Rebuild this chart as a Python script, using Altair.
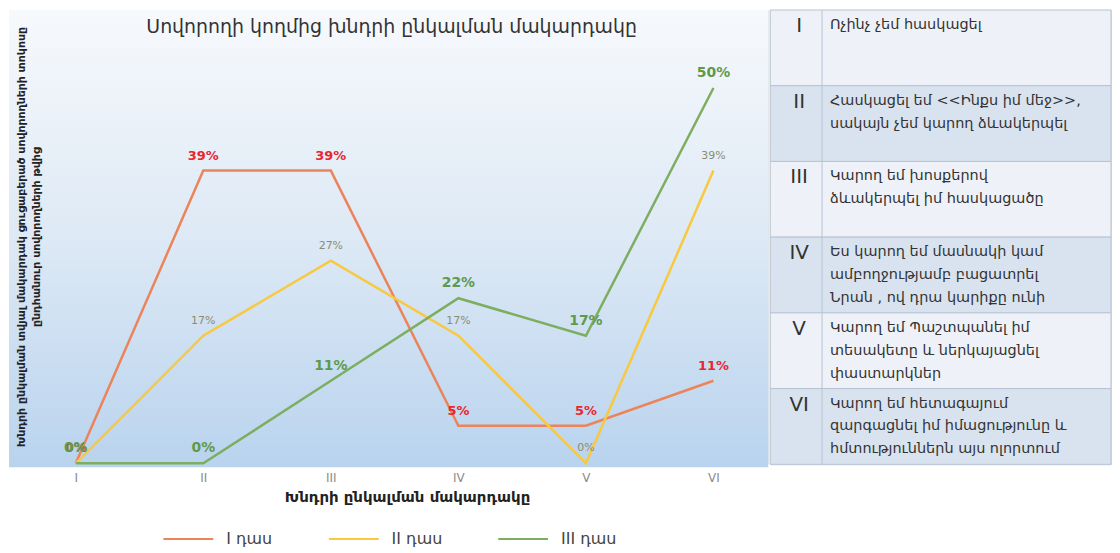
import altair as alt
import pandas as pd

# ---------------- data ----------------
levels = ["I", "II", "III", "IV", "V", "VI"]
series_names = ["I դաս", "II դաս", "III դաս"]
class1 = [0, 39, 39, 5, 5, 11]
class2 = [0, 17, 27, 17, 0, 39]
class3 = [0, 0, 11, 22, 17, 50]

title_text = "Սովորողի կողմից խնդրի ընկալման մակարդակը"
x_title = "Խնդրի ընկալման մակարդակը"
y_title = [
    "Խնդրի ընկալման տվյալ մակարդակ ցուցաբերած սովորողների տոկոսը",
    "ընդհանուր սովորողների թվից",
]

table_numerals = ["I", "II", "III", "IV", "V", "VI"]
table_texts = [
    "Ոչինչ չեմ հասկացել",
    "Հասկացել եմ <<Ինքս իմ մեջ>>,\nսակայն չեմ կարող ձևակերպել",
    "Կարող եմ խոսքերով\nձևակերպել իմ հասկացածը",
    "Ես կարող եմ մասնակի կամ\nամբողջությամբ բացատրել\nՆրան , ով դրա կարիքը ունի",
    "Կարող եմ Պաշտպանել իմ\nտեսակետը և ներկայացնել\nփաստարկներ",
    "Կարող եմ հետագայում\nզարգացնել իմ իմացությունը և\nհմտություններն այս ոլորտում",
]

# ---------------- styles ----------------
FONT = "DejaVu Sans"
line_colors = ["#EC845A", "#F8C93F", "#7DAE60"]
W_MAIN, H_MAIN = 725, 455
W_TAB, H_TAB = 342, 456

rows = []
for name, vals in zip(series_names, [class1, class2, class3]):
    for i, (lvl, v) in enumerate(zip(levels, vals)):
        rows.append({"series": name, "idx": i, "level": lvl, "value": v, "label": f"{v}%"})
df = pd.DataFrame(rows)

label_expr = "[" + ",".join(f"'{l}'" for l in levels) + "][datum.value]"
one = pd.DataFrame({"a": [0]})

x_enc = alt.X(
    "idx:Q",
    scale=alt.Scale(domain=[-30 / 128, 5 + 55 / 128], nice=False, zero=False),
    axis=alt.Axis(
        values=list(range(len(levels))), labelExpr=label_expr, ticks=False, domain=False,
        grid=False, labelColor="#8a8a8a", labelFontSize=12, labelPadding=9, labelFont=FONT,
        title=x_title, titleFontSize=15, titleFontWeight="bold", titleColor="#222",
        titlePadding=6, titleFont=FONT, zindex=1,
    ),
)
y_enc = alt.Y(
    "value:Q",
    scale=alt.Scale(domain=[0, 60.4], nice=False),
    axis=alt.Axis(
        title=y_title, labels=False, ticks=False, domain=False, grid=False,
        titleFontSize=11, titleFontWeight="bold", titleColor="#222", titleFont=FONT,
        titlePadding=4, titleLineHeight=15, zindex=1,
    ),
)

bg = alt.Chart(one).mark_rect(
    fill=alt.Gradient(
        gradient="linear",
        stops=[
            alt.GradientStop(color="#f7f9fc", offset=0),
            alt.GradientStop(color="#dde9f5", offset=0.5),
            alt.GradientStop(color="#b9d3ee", offset=1),
        ],
        x1=0, x2=0, y1=0, y2=1,
    ),
    clip=False,
).encode(x=alt.value(-37), x2=alt.value(W_MAIN), y=alt.value(0), y2=alt.value(459))

lines = alt.Chart(df).mark_line(strokeWidth=2.5).encode(
    x=x_enc,
    y=y_enc,
    color=alt.Color(
        "series:N",
        scale=alt.Scale(domain=series_names, range=line_colors),
        legend=alt.Legend(
            orient="none", legendX=135, legendY=523, direction="horizontal", title=None,
            symbolType="M-5,0H5", symbolSize=100, symbolStrokeWidth=2,
            labelFontSize=16, labelColor="#444", labelFont=FONT, columnPadding=52,
            labelOffset=30,
        ),
    ),
    order="idx:Q",
)

label_styles = [
    dict(color="#E8262E", fontSize=13, fontWeight="bold"),
    dict(color="#8c8c70", fontSize=11, fontWeight="normal"),
    dict(color="#5f9a4a", fontSize=14, fontWeight="bold"),
]
label_layers = []
for name, st in zip(series_names, label_styles):
    label_layers.append(
        alt.Chart(df).transform_filter(alt.datum.series == name).mark_text(
            dy=-15, font=FONT, **st
        ).encode(x="idx:Q", y="value:Q", text="label:N")
    )

title_layer = alt.Chart(one).mark_text(
    text=title_text, fontSize=19, color="#333", font=FONT, align="center"
).encode(x=alt.value(347), y=alt.value(17))

main = alt.layer(bg, lines, *label_layers, title_layer).properties(width=W_MAIN, height=H_MAIN)

# ---------------- table ----------------
tdf = pd.DataFrame({"row": list(range(len(table_numerals))), "num": table_numerals, "desc": table_texts})
tbase = alt.Chart(tdf)
row_y = alt.Y("row:O", axis=None, scale=alt.Scale(paddingInner=0, paddingOuter=0))
rects = tbase.mark_rect(stroke="#b6c3d3", strokeWidth=1).encode(
    y=row_y,
    x=alt.value(0),
    x2=alt.value(W_TAB),
    color=alt.condition("datum.row % 2 == 1", alt.value("#d9e3f0"), alt.value("#eef2f8")),
)
vline = alt.Chart(one).mark_rule(color="#b6c3d3", strokeWidth=1).encode(
    x=alt.value(52), y=alt.value(0), y2=alt.value(H_TAB)
)
nums = tbase.mark_text(fontSize=20, color="#333", baseline="top", align="center", dy=6, font=FONT).encode(
    y=alt.Y("row:O", bandPosition=0), x=alt.value(29), text="num:N"
)
descs = tbase.mark_text(
    fontSize=14.5, color="#333", baseline="top", align="left", lineBreak="\n",
    lineHeight=23, dy=8, font=FONT,
).encode(y=alt.Y("row:O", bandPosition=0), x=alt.value(60), text="desc:N")
table = alt.layer(rects, vline, nums, descs).properties(width=W_TAB, height=H_TAB)

chart = (
    alt.hconcat(main, table, spacing=0)
    .properties(padding=0)
    .configure_view(stroke=None)
    .configure(font=FONT)
)

chart.save("out.html", embed_options={"renderer": "svg", "actions": False})
